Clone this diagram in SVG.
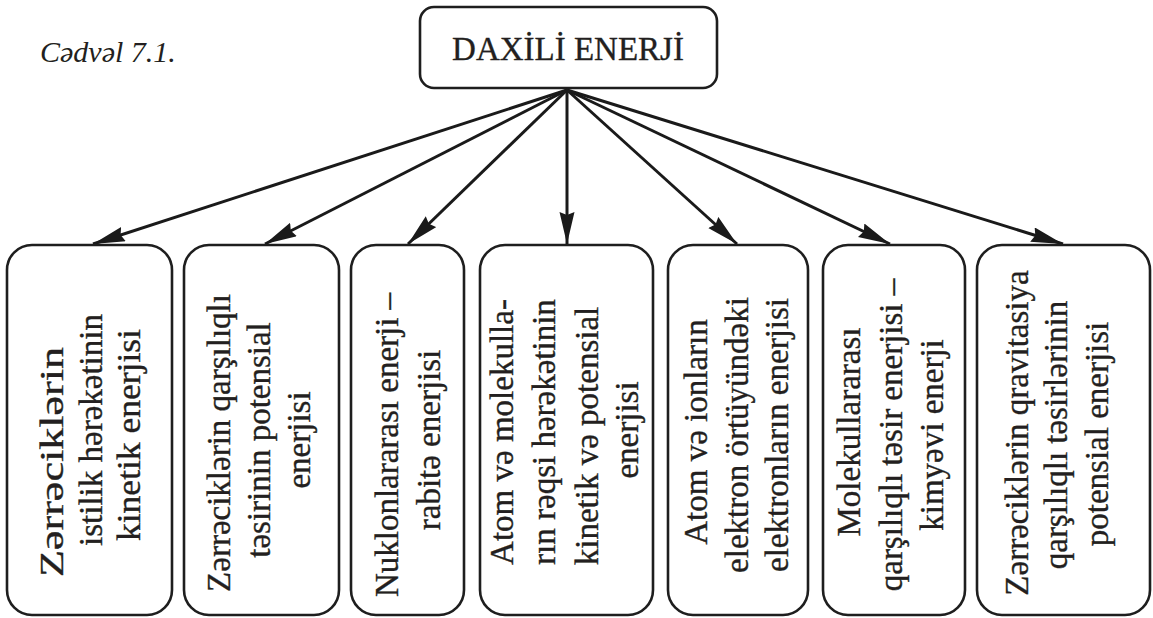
<svg xmlns="http://www.w3.org/2000/svg" width="1153" height="618" viewBox="0 0 1153 618">
<style>
.box{fill:#fff;stroke:#1e1e1e;stroke-width:2.6}
.t{font-family:"Liberation Serif","Times New Roman",serif;font-size:33px;fill:#231f20;stroke:#231f20;stroke-width:0.35;text-anchor:middle}
.cap{font-family:"Liberation Serif","Times New Roman",serif;font-size:30px;font-style:italic;fill:#231f20}
.c{stroke:#1a1a1a;stroke-width:3;fill:none;marker-end:url(#ah)}
</style>
<defs>
<marker id="ah" markerUnits="userSpaceOnUse" markerWidth="34" markerHeight="16" refX="32" refY="7.5" orient="auto">
<path d="M0,0 L32,7.5 L0,15 L3,7.5 Z" fill="#1a1a1a"/>
</marker>
</defs>
<rect width="1153" height="618" fill="#fff"/>
<text class="cap" x="40" y="62">Cədvəl 7.1.</text>
<g id="root">
<rect class="box" x="420" y="7" width="297" height="81" rx="14"/>
<text class="t" x="568" y="60">DAXİLİ ENERJİ</text>
</g>
<g id="connectors">
<line class="c" x1="567" y1="90" x2="93" y2="244"/>
<line class="c" x1="567" y1="90" x2="265" y2="244"/>
<line class="c" x1="567" y1="90" x2="408" y2="244"/>
<line class="c" x1="567" y1="90" x2="567" y2="244"/>
<line class="c" x1="567" y1="90" x2="737" y2="244"/>
<line class="c" x1="567" y1="90" x2="890" y2="244"/>
<line class="c" x1="567" y1="90" x2="1063" y2="244"/>
</g>
<g id="n1">
<rect class="box" x="7" y="245" width="165" height="370" rx="25"/>
<text class="t" transform="translate(63,462) rotate(-90)" textLength="230" lengthAdjust="spacingAndGlyphs">Zərrəciklərin</text>
<text class="t" transform="translate(102,430) rotate(-90)">istilik hərəkətinin</text>
<text class="t" transform="translate(140,435) rotate(-90)" textLength="212" lengthAdjust="spacingAndGlyphs">kinetik enerjisi</text>
</g>
<g id="n2">
<rect class="box" x="184" y="245" width="155" height="370" rx="25"/>
<text class="t" transform="translate(230,443) rotate(-90)">Zərrəciklərin qarşılıqlı</text>
<text class="t" transform="translate(270,440) rotate(-90)">təsirinin potensial</text>
<text class="t" transform="translate(310,440) rotate(-90)">enerjisi</text>
</g>
<g id="n3">
<rect class="box" x="351" y="245" width="113" height="370" rx="25"/>
<text class="t" transform="translate(398,445) rotate(-90)">Nuklonlararası enerji –</text>
<text class="t" transform="translate(440,440) rotate(-90)">rabitə enerjisi</text>
</g>
<g id="n4">
<rect class="box" x="480" y="245" width="173" height="370" rx="25"/>
<text class="t" transform="translate(513,432) rotate(-90)">Atom və molekulla-</text>
<text class="t" transform="translate(555,432) rotate(-90)">rın rəqsi hərəkətinin</text>
<text class="t" transform="translate(598,436) rotate(-90)">kinetik və potensial</text>
<text class="t" transform="translate(638,430) rotate(-90)">enerjisi</text>
</g>
<g id="n5">
<rect class="box" x="668" y="245" width="140" height="370" rx="25"/>
<text class="t" transform="translate(707,432) rotate(-90)">Atom və ionların</text>
<text class="t" transform="translate(748,435) rotate(-90)">elektron örtüyündəki</text>
<text class="t" transform="translate(788,435) rotate(-90)">elektronların enerjisi</text>
</g>
<g id="n6">
<rect class="box" x="823" y="245" width="142" height="370" rx="25"/>
<text class="t" transform="translate(860,432) rotate(-90)">Molekullararası</text>
<text class="t" transform="translate(902,435) rotate(-90)">qarşılıqlı təsir enerjisi –</text>
<text class="t" transform="translate(943,435) rotate(-90)">kimyəvi enerji</text>
</g>
<g id="n7">
<rect class="box" x="977" y="245" width="173" height="370" rx="25"/>
<text class="t" transform="translate(1028,433) rotate(-90)">Zərrəciklərin qravitasiya</text>
<text class="t" transform="translate(1067,435) rotate(-90)">qarşılıqlı təsirlərinin</text>
<text class="t" transform="translate(1108,434) rotate(-90)">potensial enerjisi</text>
</g>
</svg>
